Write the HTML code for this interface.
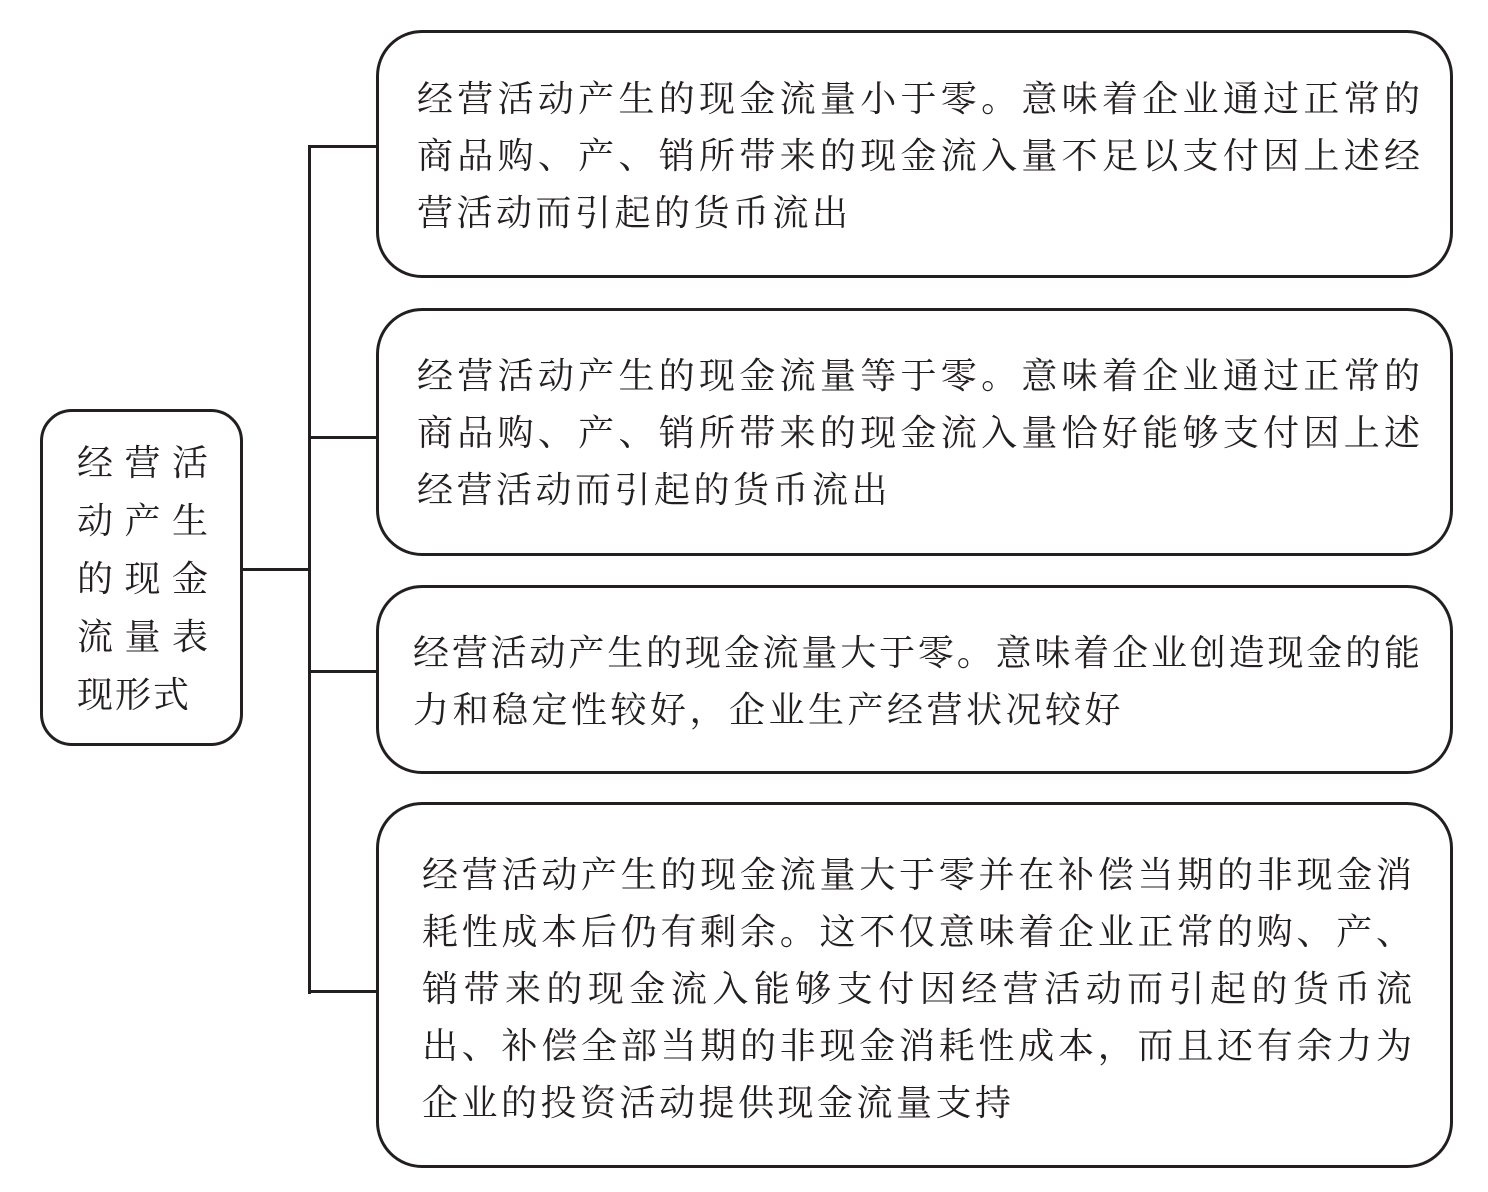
<!DOCTYPE html>
<html><head><meta charset="utf-8"><style>
body{margin:0;width:1488px;height:1192px;background:#fff;position:relative;overflow:hidden;font-family:"Liberation Serif","Noto Serif CJK SC",serif;color:#231f20}
.box{position:absolute;border:3px solid #231f20;box-sizing:border-box;background:#fff}
.ln{position:absolute;background:#231f20}
.t{position:absolute;font-size:36px;line-height:57px;white-space:nowrap}
.t div{text-align:justify;text-align-last:justify}
.t div.l{text-align-last:left;letter-spacing:3.5px}
</style></head><body>
<div class="box" style="left:40px;top:409px;width:203px;height:337px;border-radius:32px"></div>
<div class="ln" style="left:242px;top:568px;width:68px;height:3px"></div>
<div class="ln" style="left:308px;top:145px;width:3px;height:849px"></div>
<div class="ln" style="left:308px;top:145px;width:70px;height:3px"></div>
<div class="ln" style="left:308px;top:436px;width:70px;height:3px"></div>
<div class="ln" style="left:308px;top:670px;width:70px;height:3px"></div>
<div class="ln" style="left:308px;top:990px;width:70px;height:3px"></div>
<div class="box" style="left:376px;top:30px;width:1077px;height:248px;border-radius:46px"></div>
<div class="box" style="left:376px;top:308px;width:1077px;height:248px;border-radius:46px"></div>
<div class="box" style="left:376px;top:585px;width:1077px;height:189px;border-radius:46px"></div>
<div class="box" style="left:376px;top:802px;width:1077px;height:366px;border-radius:46px"></div>

<div class="t" style="left:77px;top:434px;width:131px;line-height:58px">
<div>经营活</div><div>动产生</div><div>的现金</div><div>流量表</div><div class="l" style="letter-spacing:2px">现形式</div></div>

<div class="t" style="left:417px;top:71px;width:1003px">
<div>经营活动产生的现金流量小于零。意味着企业通过正常的</div>
<div>商品购、产、销所带来的现金流入量不足以支付因上述经</div>
<div class="l">营活动而引起的货币流出</div></div>

<div class="t" style="left:417px;top:348px;width:1003px">
<div>经营活动产生的现金流量等于零。意味着企业通过正常的</div>
<div>商品购、产、销所带来的现金流入量恰好能够支付因上述</div>
<div class="l">经营活动而引起的货币流出</div></div>

<div class="t" style="left:413px;top:625px;width:1007px">
<div>经营活动产生的现金流量大于零。意味着企业创造现金的能</div>
<div class="l">力和稳定性较好，企业生产经营状况较好</div></div>

<div class="t" style="left:422px;top:847px;width:990px">
<div>经营活动产生的现金流量大于零并在补偿当期的非现金消</div>
<div>耗性成本后仍有剩余。这不仅意味着企业正常的购、产、</div>
<div>销带来的现金流入能够支付因经营活动而引起的货币流</div>
<div>出、补偿全部当期的非现金消耗性成本，而且还有余力为</div>
<div class="l">企业的投资活动提供现金流量支持</div></div>
</body></html>
